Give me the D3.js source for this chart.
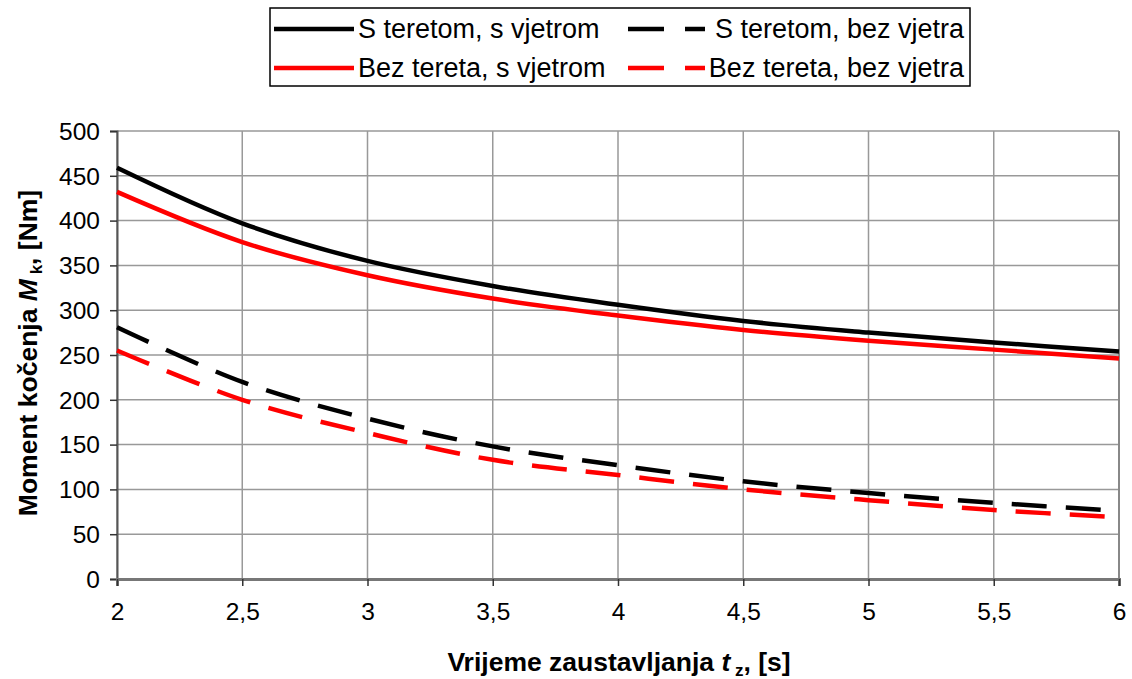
<!DOCTYPE html>
<html><head><meta charset="utf-8">
<script src="https://cdn.jsdelivr.net/npm/d3@7"></script>
<style>body{margin:0;background:#fff}svg{display:block;font-family:"Liberation Sans",Arial,sans-serif}</style>
</head><body><svg id="c" width="1132" height="679"></svg>
<script>
const times = [2, 2.5, 3, 3.5, 4, 4.5, 5, 5.5, 6];
const sTeretomSVjetrom = [459, 397, 355, 327, 306, 288, 275, 264, 254];
const bezTeretaSVjetrom = [432, 376, 339, 313, 294, 278, 266, 256, 246];
const sTeretomBezVjetra = [281, 220, 179, 148, 127, 109, 96, 85, 76];
const bezTeretaBezVjetra = [255, 200, 163, 133, 116, 100, 88, 77, 69];
const xTicks = [2, 2.5, 3, 3.5, 4, 4.5, 5, 5.5, 6];
const yTicks = [0, 50, 100, 150, 200, 250, 300, 350, 400, 450, 500];
const seriesNames = ["S teretom, s vjetrom", "S teretom, bez vjetra", "Bez tereta, s vjetrom", "Bez tereta, bez vjetra"];

const series = [
  {name: seriesNames[0], values: sTeretomSVjetrom, color: "#000", dash: null},
  {name: seriesNames[1], values: sTeretomBezVjetra, color: "#000", dash: "35,19"},
  {name: seriesNames[2], values: bezTeretaSVjetrom, color: "#ff0000", dash: null},
  {name: seriesNames[3], values: bezTeretaBezVjetra, color: "#ff0000", dash: "35,19"}
];

const svg = d3.select("#c");
const L = 117, R = 1119, T = 131, B = 579;
const x = d3.scaleLinear().domain([2, 6]).range([L, R]);
const y = d3.scaleLinear().domain([0, 500]).range([B, T]);
const fmt = d => String(d).replace(".", ",");

// grid
const g = svg.append("g");
g.selectAll(".hg").data(yTicks).enter().append("line")
  .attr("x1", L).attr("x2", R).attr("y1", d => y(d)).attr("y2", d => y(d))
  .attr("stroke", "#999").attr("stroke-width", 1.5);
g.selectAll(".vg").data(xTicks).enter().append("line")
  .attr("y1", T).attr("y2", B).attr("x1", d => x(d)).attr("x2", d => x(d))
  .attr("stroke", "#999").attr("stroke-width", 1.5);
g.append("line").attr("x1", R).attr("x2", R).attr("y1", T).attr("y2", B).attr("stroke", "#888").attr("stroke-width", 2);

// axes
const yAxis = d3.axisLeft(y).tickValues(yTicks).tickSize(7).tickPadding(10).tickFormat(fmt);
const ya = svg.append("g").attr("transform", `translate(${L},0)`).call(yAxis);
ya.select(".domain").attr("stroke", "#555").attr("stroke-width", 2);
ya.selectAll(".tick line").attr("stroke", "#333").attr("stroke-width", 1.5);
ya.selectAll("text").attr("font-size", 24.5).attr("fill", "#000").attr("font-family", "Liberation Sans, Arial").attr("dy", "0.34em");

const xAxis = d3.axisBottom(x).tickValues(xTicks).tickSize(7).tickPadding(17).tickFormat(fmt);
const xa = svg.append("g").attr("transform", `translate(0,${B})`).call(xAxis);
xa.select(".domain").attr("stroke", "#777").attr("stroke-width", 3);
xa.selectAll(".tick line").attr("stroke", "#333").attr("stroke-width", 1.5);
xa.selectAll("text").attr("font-size", 24.5).attr("fill", "#000").attr("font-family", "Liberation Sans, Arial");

// lines
const line = d3.line().x((d, i) => x(times[i])).y(d => y(d)).curve(d3.curveCatmullRom.alpha(0.5));
const plot = svg.append("g");
series.forEach(s => {
  plot.append("path").attr("d", line(s.values)).attr("fill", "none")
    .attr("stroke", s.color).attr("stroke-width", 4.5)
    .attr("stroke-dasharray", s.dash);
});

// axis titles
svg.append("text").attr("x", 619).attr("y", 671).attr("text-anchor", "middle")
  .attr("font-size", 26.5).attr("font-weight", "bold")
  .call(t => {
    t.append("tspan").text("Vrijeme zaustavljanja ");
    t.append("tspan").attr("font-style", "italic").text("t");
    t.append("tspan").attr("font-size", 17).attr("dy", 5).text(" z");
    t.append("tspan").attr("dy", -5).text(", [s]");
  });
svg.append("text").attr("transform", "translate(37,353) rotate(-90)").attr("text-anchor", "middle")
  .attr("font-size", 26.5).attr("font-weight", "bold")
  .call(t => {
    t.append("tspan").text("Moment kočenja ");
    t.append("tspan").attr("font-style", "italic").text("M");
    t.append("tspan").attr("font-size", 17).attr("dy", 5).text(" k");
    t.append("tspan").attr("dy", -5).text(", [Nm]");
  });

// legend
const lg = svg.append("g");
lg.append("rect").attr("x", 270).attr("y", 8).attr("width", 700).attr("height", 78)
  .attr("fill", "#fff").attr("stroke", "#000").attr("stroke-width", 1.5);
const legendItems = [
  {s: series[0], x1: 274, x2: 354, tx: 358, anchor: "start", ty: 29},
  {s: series[2], x1: 274, x2: 354, tx: 358, anchor: "start", ty: 68},
  {s: series[1], x1: 628, x2: 705, tx: 964, anchor: "end", ty: 29},
  {s: series[3], x1: 628, x2: 705, tx: 964, anchor: "end", ty: 68}
];
legendItems.forEach(it => {
  lg.append("line").attr("x1", it.x1).attr("x2", it.x2).attr("y1", it.ty).attr("y2", it.ty)
    .attr("stroke", it.s.color).attr("stroke-width", 4.5).attr("stroke-dasharray", it.s.dash ? "36,21" : null);
  lg.append("text").attr("x", it.tx).attr("y", it.ty).attr("dy", "0.35em").attr("text-anchor", it.anchor)
    .attr("font-size", 27).text(it.s.name);
});
</script></body></html>
